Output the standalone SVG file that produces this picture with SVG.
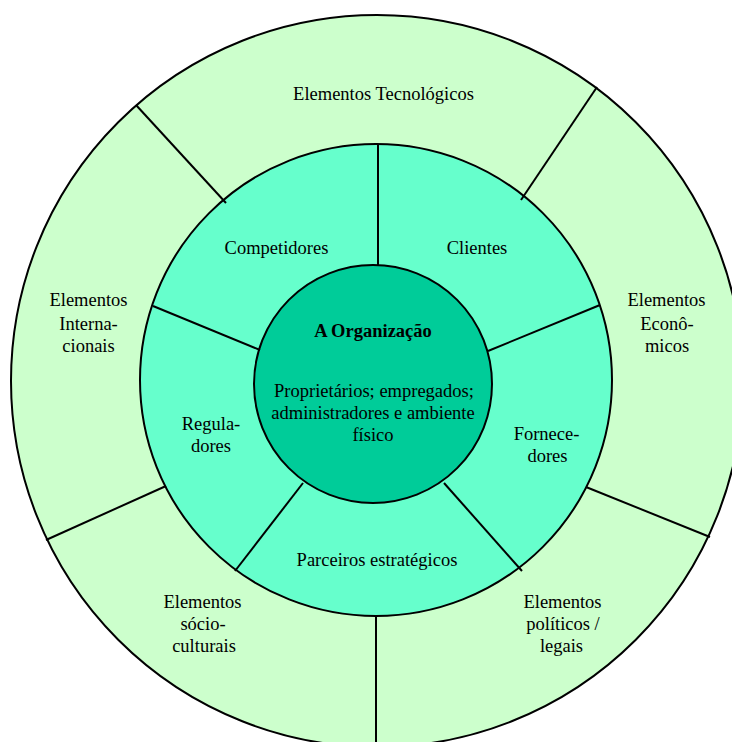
<svg xmlns="http://www.w3.org/2000/svg" width="732" height="742" viewBox="0 0 732 742">
<style>
.ring{stroke:#000;stroke-width:2}
.div{stroke:#000;stroke-width:2;fill:none}
text{font-family:"Liberation Serif","Times New Roman",serif;font-size:18.5px;fill:#000;text-anchor:middle}
.b{font-weight:bold}
</style>
<rect width="732" height="742" fill="#fff"/>
<g id="outer-ring"><circle class="ring" cx="377" cy="381" r="366" fill="#CCFFCC"/></g>
<g id="middle-ring"><circle class="ring" cx="376" cy="380" r="236" fill="#66FFCC"/></g>
<g id="organizacao"><circle class="ring" cx="373" cy="384" r="119" fill="#00CC99"/>
<text class="b" x="373" y="337">A Organização</text>
<text x="374" y="397">Proprietários; empregados;</text>
<text x="373" y="419">administradores e ambiente</text>
<text x="373" y="441">físico</text>
</g>
<g id="dividers">
<line class="div" x1="136" y1="105" x2="226" y2="203"/>
<line class="div" x1="597" y1="87" x2="521" y2="200"/>
<line class="div" x1="46" y1="540" x2="166" y2="486"/>
<line class="div" x1="586" y1="487" x2="710" y2="537"/>
<line class="div" x1="376" y1="615" x2="376" y2="742"/>
<line class="div" x1="378" y1="145" x2="378" y2="266"/>
<line class="div" x1="153" y1="306" x2="260" y2="350"/>
<line class="div" x1="488" y1="351" x2="600" y2="305"/>
<line class="div" x1="303" y1="483" x2="235" y2="571"/>
<line class="div" x1="444" y1="483" x2="522" y2="571"/>
</g>
<g id="tecnologicos"><text x="383.5" y="100">Elementos Tecnológicos</text></g>
<g id="competidores"><text x="276.5" y="254">Competidores</text></g>
<g id="clientes"><text x="477" y="254">Clientes</text></g>
<g id="internacionais"><text x="88.5" y="306">Elementos</text><text x="88.5" y="330">Interna-</text><text x="88.5" y="352">cionais</text></g>
<g id="economicos"><text x="666.5" y="306">Elementos</text><text x="667" y="330">Econô-</text><text x="667" y="352">micos</text></g>
<g id="reguladores"><text x="211" y="430">Regula-</text><text x="211" y="452">dores</text></g>
<g id="fornecedores"><text x="546.5" y="440">Fornece-</text><text x="547.5" y="462">dores</text></g>
<g id="parceiros"><text x="377" y="566">Parceiros estratégicos</text></g>
<g id="socioculturais"><text x="202.5" y="608">Elementos</text><text x="203" y="630">sócio-</text><text x="204" y="652">culturais</text></g>
<g id="politicos"><text x="562.5" y="608">Elementos</text><text x="563" y="630">políticos /</text><text x="561.5" y="652">legais</text></g>
</svg>
